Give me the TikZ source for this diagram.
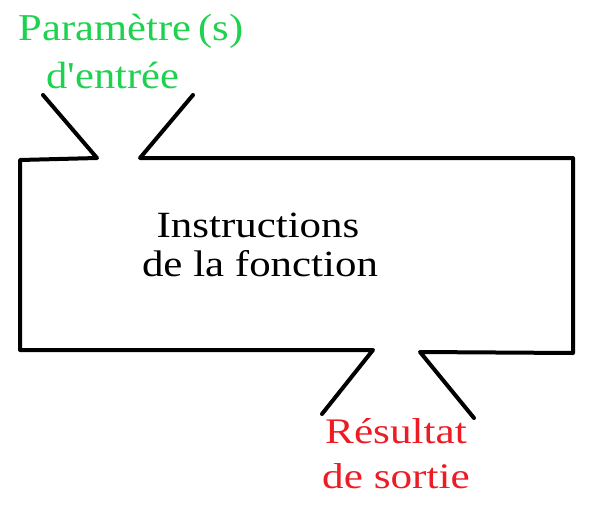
\documentclass[tikz,border=0pt]{standalone}
\usepackage{fontspec}
\setmainfont{Liberation Serif}
\definecolor{ingreen}{RGB}{30,210,80}
\definecolor{outred}{RGB}{237,28,36}
\tikzset{
  outline/.style={line width=4pt, line cap=round, line join=round, black},
  txt/.style={inner sep=0pt, anchor=base},
}
\begin{document}
\begin{tikzpicture}[x=1pt,y=-1pt]
\useasboundingbox (0,0) rectangle (595,512);
% corner points
\coordinate (tl) at (20,160);
\coordinate (bl) at (20,350);
\coordinate (br) at (573,353);
\coordinate (tr) at (573,158);
\coordinate (inL) at (97,158);
\coordinate (inR) at (140,158);
\coordinate (inLend) at (43,95);
\coordinate (inRend) at (193,95);
\coordinate (outL) at (373,350);
\coordinate (outR) at (420,352);
\coordinate (outLend) at (322,414);
\coordinate (outRend) at (474,418);
\draw[outline] (inLend) -- (inL) -- (tl) -- (bl) -- (outL) -- (outLend);
\draw[outline] (inRend) -- (inR) -- (tr) -- (br) -- (outR) -- (outRend);
% texts
\node[txt, ingreen] (p1) at (131,40) {\scalebox{1.12}[1]{\fontsize{38}{40}\selectfont Paramètre\,(s)}};
\node[txt, ingreen] (p2) at (113,88) {\scalebox{1.12}[1]{\fontsize{38}{40}\selectfont d\textquotesingle entrée}};
\node[txt] (i1) at (258,237) {\scalebox{1.16}[1]{\fontsize{37}{40}\selectfont Instructions}};
\node[txt] (i2) at (260,276) {\scalebox{1.16}[1]{\fontsize{37}{40}\selectfont de la fonction}};
\node[txt, outred] (r1) at (396,443) {\scalebox{1.2}[1]{\fontsize{36}{40}\selectfont Résultat}};
\node[txt, outred] (r2) at (396,488) {\scalebox{1.2}[1]{\fontsize{36}{40}\selectfont de sortie}};
\end{tikzpicture}
\end{document}
